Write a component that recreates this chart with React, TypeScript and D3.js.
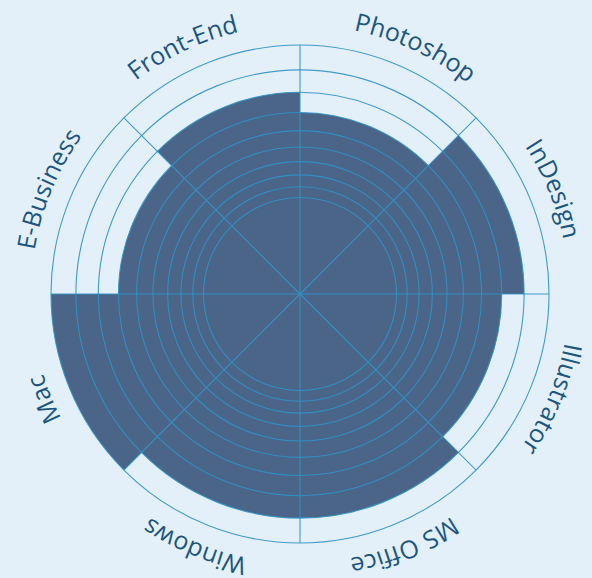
import React from 'react';
import * as d3 from 'd3';

const skills = ['Photoshop', 'InDesign', 'Illustrator', 'MS Office', 'Windows', 'Mac', 'E-Business', 'Front-End'];
const levels = [7, 9, 8, 9, 9, 10, 7, 8];
const ringTicks = [1, 2, 3, 4, 5, 6, 7, 8, 9, 10];

const W = 592;
const H = 578;
const cx = 300;
const cy = 294;
const rInner = 96.5;
const rOuter = 249;
const labelR = 269;
// the two labels next to 12 o'clock sit a little further away from it
const labelNudgeDeg: Record<string, number> = { Photoshop: 2.5, 'Front-End': -3 };

export default function App() {
  // rings are spaced geometrically: map level -> radius through a log scale's invert
  const lvl = d3.scaleLog().domain([rInner, rOuter]).range([1, 10]);
  const radius = (v: number) => lvl.invert(v);

  const angle = d3.scaleBand<string>().domain(skills).range([0, 2 * Math.PI]);

  const arc = d3.arc<{ name: string; value: number }>()
    .innerRadius(0)
    .outerRadius(d => radius(d.value))
    .startAngle(d => angle(d.name)!)
    .endAngle(d => angle(d.name)! + angle.bandwidth());

  const data = skills.map((name, i) => ({ name, value: levels[i] }));

  const labelPath = `M0,${-labelR} A${labelR},${labelR} 0 1,1 0,${labelR} A${labelR},${labelR} 0 1,1 0,${-labelR}`;

  return (
    <svg width={W} height={H} style={{ position: 'absolute', left: 0, top: 0, display: 'block' }}>
      <rect width={W} height={H} fill="#e4f0f9" />
      <g transform={`translate(${cx},${cy})`}>
        <defs>
          <path id="labelArc" d={labelPath} />
        </defs>
        {data.map(d => (
          <path key={d.name} d={arc(d)!} fill="#4a6588" />
        ))}
        {ringTicks.map(t => (
          <circle key={t} r={radius(t)} fill="none" stroke="#2f92c6" strokeOpacity={0.9} strokeWidth={1.1} />
        ))}
        {skills.map(s => {
          const a = angle(s)!;
          return (
            <line key={s} x1={0} y1={0}
              x2={rOuter * Math.sin(a)} y2={-rOuter * Math.cos(a)}
              stroke="#2f92c6" strokeOpacity={0.9} strokeWidth={1.1} />
          );
        })}
        {skills.map(s => {
          const mid = angle(s)! + angle.bandwidth() / 2 + ((labelNudgeDeg[s] || 0) * Math.PI) / 180;
          return (
            <text key={s} fontFamily="'Open Sans', sans-serif" fontSize={25} fill="#1b5683">
              <textPath href="#labelArc" startOffset={mid * labelR} textAnchor="middle">{s}</textPath>
            </text>
          );
        })}
      </g>
    </svg>
  );
}
